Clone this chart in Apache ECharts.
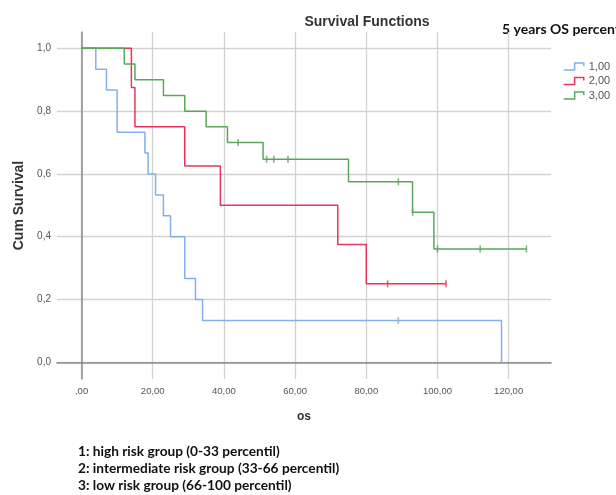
<!DOCTYPE html>
<html>
<head>
<meta charset="utf-8">
<script src="https://cdn.jsdelivr.net/npm/echarts@6/dist/echarts.min.js"></script>
<style>
html,body{margin:0;padding:0;background:#fff;}
#chart{width:616px;height:495px;}
</style>
</head>
<body>
<div id="chart"></div>
<script>
// Group names (legend)
const groupNames = ['1,00', '2,00', '3,00'];
const groupColors = ['#82b0ee', '#e8345c', '#5aa65a'];

// Kaplan-Meier step points (time, cumulative survival)
const timesG1 = [0, 4, 7, 10, 17.8, 18.7, 20.8, 23, 25, 29, 32, 34, 118];
const survG1  = [1, 0.933, 0.867, 0.733, 0.667, 0.6, 0.533, 0.467, 0.4, 0.267, 0.2, 0.133, 0];
const timesG2 = [0, 14, 15, 29, 39, 72, 80, 102.4];
const survG2  = [1, 0.875, 0.75, 0.625, 0.5, 0.375, 0.25, 0.25];
const timesG3 = [0, 12, 15, 23, 29, 35, 41, 51, 75, 93, 99, 125];
const survG3  = [1, 0.95, 0.9, 0.85, 0.8, 0.75, 0.7, 0.647, 0.575, 0.478, 0.361, 0.361];

// Censored observations
const censorTimesG1 = [89];
const censorSurvG1  = [0.133];
const censorTimesG2 = [86, 102.4];
const censorSurvG2  = [0.25, 0.25];
const censorTimesG3 = [44, 52, 54, 58, 89, 93, 100, 112, 125];
const censorSurvG3  = [0.7, 0.647, 0.647, 0.647, 0.575, 0.478, 0.361, 0.361, 0.361];

// Axis ticks
const xTicks = [0, 20, 40, 60, 80, 100, 120];
const yTicks = [0, 0.2, 0.4, 0.6, 0.8, 1.0];

// Footnote lines
const footnotes = [
  '1: high risk group (0-33 percentil)',
  '2: intermediate risk group (33-66 percentil)',
  '3: low risk group (66-100 percentil)'
];

const zip = (a, b) => a.map((v, i) => [v, b[i]]);
const lineData = [zip(timesG1, survG1), zip(timesG2, survG2), zip(timesG3, survG3)];
const censorData = [zip(censorTimesG1, censorSurvG1), zip(censorTimesG2, censorSurvG2), zip(censorTimesG3, censorSurvG3)];

const legendIcon = 'path://M0,7 L12,7 L12,0 L22,0 L22,3';

const series = [];
groupNames.forEach((name, i) => {
  series.push({
    type: 'line', name: name, step: 'end', data: lineData[i],
    showSymbol: false, symbol: 'none', silent: true,
    lineStyle: { color: groupColors[i], width: 1.5 },
    itemStyle: { color: groupColors[i] },
    z: 3 + i
  });
});
groupNames.forEach((name, i) => {
  series.push({
    type: 'scatter', name: 'censor' + name, data: censorData[i],
    symbol: 'rect', symbolSize: [1.6, 7], silent: true,
    itemStyle: { color: groupColors[i] },
    z: 6
  });
});

const chart = echarts.init(document.getElementById('chart'), null, { renderer: 'canvas' });
chart.setOption({
  animation: false,
  backgroundColor: '#fff',
  title: {
    text: 'Survival Functions',
    left: 362, top: 10, textAlign: 'center',
    textStyle: { fontFamily: 'Liberation Sans', fontSize: 14, fontWeight: 'bold', color: '#333' }
  },
  legend: {
    orient: 'vertical', left: 558, top: 56,
    itemWidth: 20, itemHeight: 7, itemGap: 3.5,
    symbolKeepAspect: false,
    selectedMode: false,
    textStyle: { fontFamily: 'Liberation Sans', fontSize: 11, color: '#555', lineHeight: 11 },
    data: groupNames.map((n, i) => ({
      name: n, icon: legendIcon,
      itemStyle: { color: 'rgba(0,0,0,0)', borderColor: groupColors[i], borderWidth: 1.5 }
    }))
  },
  grid: { left: 57, right: 65, top: 32, bottom: 116, containLabel: false, outerBoundsMode: 'none' },
  xAxis: {
    type: 'value', min: -6.9, max: 131.9, minInterval: 20, maxInterval: 20, splitNumber: 7,
    name: 'os', nameLocation: 'middle', nameGap: 32,
    nameTextStyle: { fontFamily: 'Liberation Sans', fontSize: 12, fontWeight: 'bold', color: '#333' },
    axisLine: { show: true, lineStyle: { color: '#8c8c8c', width: 1.5 } },
    axisTick: { show: false },
    axisLabel: {
      showMinLabel: false, showMaxLabel: false, margin: 7,
      fontFamily: 'Liberation Sans', fontSize: 9.5, color: '#555',
      formatter: v => (xTicks.indexOf(Math.round(v)) >= 0 && Math.abs(v - Math.round(v)) < 1e-6)
        ? (Math.round(v) === 0 ? ',00' : Math.round(v).toFixed(2).replace('.', ',')) : ''
    },
    splitLine: { show: true, showMinLine: false, showMaxLine: false, lineStyle: { color: '#d2d2d2', width: 1.3 } }
  },
  yAxis: {
    type: 'value', min: -0.053, max: 1.052, minInterval: 0.2, maxInterval: 0.2, splitNumber: 5,
    name: 'Cum Survival', nameLocation: 'middle', nameGap: 30, nameRotate: 90,
    nameTextStyle: { fontFamily: 'Liberation Sans', fontSize: 14, fontWeight: 'bold', color: '#333' },
    axisLine: { show: true, lineStyle: { color: '#8c8c8c', width: 1.5 } },
    axisTick: { show: false },
    axisLabel: {
      showMinLabel: false, showMaxLabel: false, margin: 6,
      fontFamily: 'Liberation Sans', fontSize: 10, color: '#555',
      formatter: v => {
        const r = Math.round(v * 10) / 10;
        const ok = yTicks.some(t => Math.abs(t - v) < 1e-6);
        return ok ? Math.abs(r).toFixed(1).replace('.', ',') : '';
      }
    },
    splitLine: { show: true, showMinLine: false, showMaxLine: false, lineStyle: { color: '#d2d2d2', width: 1.3 } }
  },
  graphic: [
    {
      type: 'text', left: 502, top: 22,
      style: { text: '5 years OS percent', fontFamily: 'Lato', fontSize: 14, fontWeight: 'bold', fill: '#111' }
    }
  ].concat(footnotes.map((t, i) => ({
    type: 'text', left: 78, top: 445 + i * 16.7,
    style: { text: t, fontFamily: 'Lato', fontSize: 13.7, fontWeight: 'bold', fill: '#111' }
  }))),
  series: series
});
</script>
</body>
</html>
